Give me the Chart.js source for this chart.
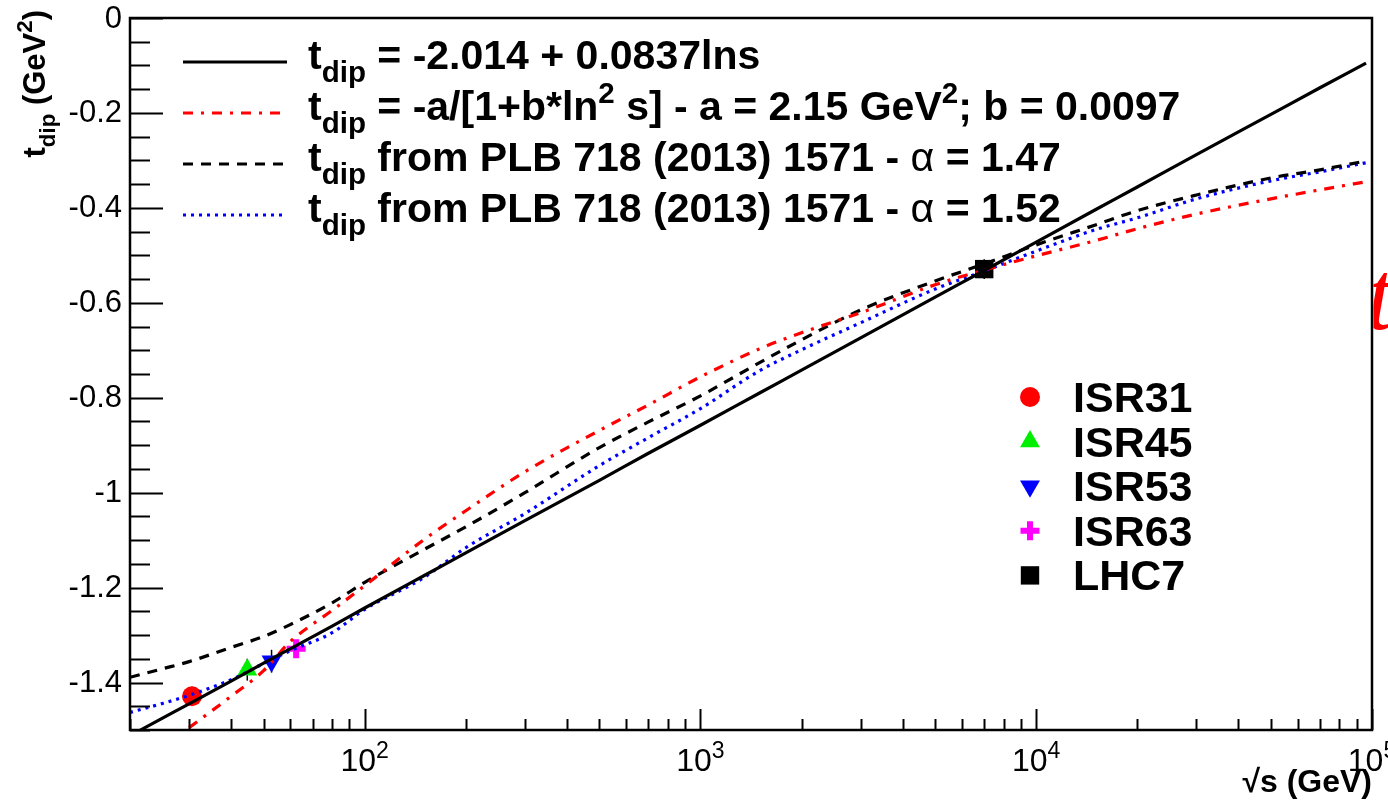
<!DOCTYPE html>
<html lang="en">
<head>
  <meta charset="UTF-8" />
  <title>t_dip vs sqrt(s)</title>
  <style>
    html, body { margin: 0; padding: 0; background: #fff; }
    #wrap { width: 1388px; height: 802px; }
  </style>
</head>
<body>
  <div id="wrap"><canvas id="chart" width="1388" height="802"></canvas></div>

  <script src="https://cdn.jsdelivr.net/npm/chart.js@4"></script>
  <script>
    // sqrt(s) sample positions (GeV) at which the curves were read
    const sqrtS = [20, 25, 30, 40, 50, 60, 80, 100, 150, 200, 300, 500, 700, 1000, 1500, 2000, 3000, 5000, 7000, 10000, 15000, 20000, 30000, 50000, 70000, 96000];

    // t_dip = -2.014 + 0.0837 ln s  (solid black)
    const tLinear = [-1.512, -1.475, -1.445, -1.397, -1.359, -1.329, -1.281, -1.243, -1.175, -1.127, -1.059, -0.974, -0.917, -0.858, -0.790, -0.742, -0.674, -0.588, -0.532, -0.472, -0.404, -0.356, -0.288, -0.203, -0.147, -0.095];
    // t_dip = -a/[1+b ln^2 s]  (red dash-dot), starts at sqrt(s)=30
    const tRatio = [null, null, -1.495, -1.429, -1.375, -1.314, -1.248, -1.196, -1.099, -1.038, -0.956, -0.869, -0.815, -0.756, -0.697, -0.663, -0.621, -0.562, -0.531, -0.501, -0.469, -0.444, -0.413, -0.381, -0.362, -0.345];
    // PLB 718 (2013) 1571, alpha = 1.47  (black dashed)
    const tPlb147 = [-1.389, -1.371, -1.356, -1.326, -1.303, -1.278, -1.232, -1.189, -1.120, -1.072, -1.000, -0.905, -0.851, -0.796, -0.726, -0.678, -0.615, -0.554, -0.518, -0.478, -0.436, -0.406, -0.373, -0.337, -0.320, -0.301];
    // PLB 718 (2013) 1571, alpha = 1.52  (blue dotted)
    const tPlb152 = [-1.463, -1.444, -1.427, -1.394, -1.360, -1.333, -1.295, -1.246, -1.179, -1.116, -1.044, -0.943, -0.884, -0.823, -0.743, -0.699, -0.642, -0.571, -0.533, -0.491, -0.446, -0.421, -0.381, -0.343, -0.324, -0.305];

    // measured points
    const pointNames = ["ISR31", "ISR45", "ISR53", "ISR63", "LHC7"];
    const pointX = [30.6, 44.7, 52.8, 62.5, 7000];
    const pointY = [-1.429, -1.373, -1.355, -1.329, -0.529];
    const pointErr = [0.020, 0.023, 0.024, 0.017, 0.021];

    // axis labels
    const yTicks = [0, -0.2, -0.4, -0.6, -0.8, -1, -1.2, -1.4];
    const yTickLabels = ["0", "-0.2", "-0.4", "-0.6", "-0.8", "-1", "-1.2", "-1.4"];
    const xDecades = [100, 1000, 10000, 100000];
    const xDecadeExp = ["2", "3", "4", "5"];

    const FONT = '"Liberation Sans", Arial, Helvetica, sans-serif';

    const markerStyles = [
      { color: "#ff0000", style: "circle", radius: 10, rotation: 0, bw: 0 },
      { color: "#00ee00", style: "triangle", radius: 11.5, rotation: 0, bw: 0 },
      { color: "#0000ff", style: "triangle", radius: 11.5, rotation: 180, bw: 0 },
      { color: "#ff00ff", style: "cross", radius: 9.5, rotation: 0, bw: 6 },
      { color: "#000000", style: "rect", radius: 13, rotation: 0, bw: 0 }
    ];

    const curves = [
      { data: tLinear, color: "#000000", dash: [] },
      { data: tRatio, color: "#ff0000", dash: [10, 8, 3, 8] },
      { data: tPlb147, color: "#000000", dash: [10, 8] },
      { data: tPlb152, color: "#0000ff", dash: [3, 5] }
    ];

    const legendTexts = [
      [{ t: "t" }, { t: "dip", k: "sub" }, { t: " = -2.014 + 0.0837lns" }],
      [{ t: "t" }, { t: "dip", k: "sub" }, { t: " = -a/[1+b*ln" }, { t: "2", k: "sup" }, { t: " s] - a = 2.15 GeV" }, { t: "2", k: "sup" }, { t: "; b = 0.0097" }],
      [{ t: "t" }, { t: "dip", k: "sub" }, { t: " from PLB 718 (2013) 1571 - " }, { t: "α", w: "normal" }, { t: " = 1.47" }],
      [{ t: "t" }, { t: "dip", k: "sub" }, { t: " from PLB 718 (2013) 1571 - " }, { t: "α", w: "normal" }, { t: " = 1.52" }]
    ];

    // --- rich text helpers (sub/superscripts) ---
    function partFont(p, size, weight) {
      const s = p.k ? size * 0.72 : size;
      return `${p.w || weight} ${s}px ${FONT}`;
    }
    function richWidth(ctx, parts, size, weight) {
      let w = 0;
      parts.forEach(p => { ctx.font = partFont(p, size, weight); w += ctx.measureText(p.t).width; });
      return w;
    }
    function drawRich(ctx, parts, x, y, size, weight, align) {
      let cx = x;
      const total = richWidth(ctx, parts, size, weight);
      if (align === "center") cx = x - total / 2;
      if (align === "right") cx = x - total;
      ctx.textAlign = "left";
      ctx.textBaseline = "alphabetic";
      parts.forEach(p => {
        ctx.font = partFont(p, size, weight);
        const dy = p.k === "sub" ? size * 0.32 : p.k === "sup" ? -size * 0.42 : 0;
        ctx.fillText(p.t, cx, y + dy);
        cx += ctx.measureText(p.t).width;
      });
      return total;
    }

    function drawMarker(ctx, m, x, y) {
      ctx.save();
      ctx.fillStyle = m.color;
      ctx.strokeStyle = m.color;
      ctx.lineWidth = m.bw;
      Chart.helpers.drawPoint(ctx, { pointStyle: m.style, radius: m.radius, rotation: m.rotation, borderWidth: m.bw }, x, y);
      ctx.restore();
    }

    const errorBars = {
      id: "errorBars",
      beforeDatasetsDraw(chart) {
        const { ctx, scales: { x, y } } = chart;
        ctx.save();
        ctx.strokeStyle = "#000";
        ctx.lineWidth = 1.5;
        pointX.forEach((v, i) => {
          const px = x.getPixelForValue(v);
          ctx.beginPath();
          ctx.moveTo(px, y.getPixelForValue(pointY[i] - pointErr[i]));
          ctx.lineTo(px, y.getPixelForValue(pointY[i] + pointErr[i]));
          ctx.stroke();
        });
        ctx.restore();
      }
    };

    const frameAndText = {
      id: "frameAndText",
      afterDraw(chart) {
        const { ctx, chartArea: a, scales: { x, y } } = chart;
        ctx.save();
        ctx.strokeStyle = "#000";
        ctx.fillStyle = "#000";

        // frame
        ctx.lineWidth = 2.5;
        ctx.strokeRect(a.left, a.top, a.right - a.left, a.bottom - a.top);

        // y ticks (inward)
        ctx.lineWidth = 2;
        for (let v = 0; v >= -1.5001; v -= 0.05) {
          const major = Math.abs(Math.round(v * 100) % 20) === 0;
          const py = Math.round(y.getPixelForValue(v)) + 0.5;
          ctx.beginPath();
          ctx.moveTo(a.left, py);
          ctx.lineTo(a.left + (major ? 33 : 20), py);
          ctx.stroke();
        }
        // y labels
        ctx.font = `31px ${FONT}`;
        ctx.textAlign = "right";
        ctx.textBaseline = "middle";
        yTicks.forEach((v, i) => ctx.fillText(yTickLabels[i], 122, y.getPixelForValue(v) + 1));

        // x ticks (inward)
        for (let dec = 10; dec <= 100000; dec *= 10) {
          for (let k = 1; k <= 9; k++) {
            const v = dec * k;
            if (v < 20 || v > 100000) continue;
            const px = Math.round(x.getPixelForValue(v)) + 0.5;
            ctx.beginPath();
            ctx.moveTo(px, a.bottom);
            ctx.lineTo(px, a.bottom - (k === 1 ? 21 : 11));
            ctx.stroke();
          }
        }
        // x labels
        ctx.fillStyle = "#000";
        xDecades.forEach((v, i) => {
          drawRich(ctx, [{ t: "10" }, { t: xDecadeExp[i], k: "sup" }], x.getPixelForValue(v), 771, 32, "normal", "center");
        });

        // axis titles
        drawRich(ctx, [{ t: "√s (GeV)" }], a.right, 792, 32, "bold", "right");
        ctx.save();
        ctx.translate(45, 10);
        ctx.rotate(-Math.PI / 2);
        drawRich(ctx, [{ t: "t" }, { t: "dip", k: "sub" }, { t: " (GeV" }, { t: "2", k: "sup" }, { t: ")" }], 0, 0, 31, "bold", "right");
        ctx.restore();

        // upper legend
        curves.forEach((c, i) => {
          const ly = 62 + i * 51;
          ctx.save();
          ctx.strokeStyle = c.color;
          ctx.lineWidth = 3;
          ctx.setLineDash(c.dash);
          ctx.beginPath();
          ctx.moveTo(183, ly);
          ctx.lineTo(287, ly);
          ctx.stroke();
          ctx.restore();
          ctx.fillStyle = "#000";
          drawRich(ctx, legendTexts[i], 308, ly + 7, 41, "bold", "left");
        });

        // lower legend (markers)
        pointNames.forEach((name, i) => {
          const ly = 397 + i * 44.6;
          drawMarker(ctx, markerStyles[i], 1030, ly);
          ctx.fillStyle = "#000";
          drawRich(ctx, [{ t: name }], 1073, ly + 15, 43, "bold", "left");
        });

        // red glyph cut off at the right edge
        ctx.save();
        ctx.beginPath();
        ctx.rect(a.right + 1.5, 0, 40, 802);
        ctx.clip();
        ctx.fillStyle = "#ff0000";
        ctx.font = 'italic 100px "Liberation Serif", serif';
        ctx.textAlign = "left";
        ctx.textBaseline = "alphabetic";
        ctx.fillText("t", a.right - 6, 329);
        ctx.restore();

        ctx.restore();
      }
    };

    const curveSets = curves.map(c => ({
      data: sqrtS.map((s, i) => ({ x: s, y: c.data[i] })),
      showLine: true,
      borderColor: c.color,
      borderWidth: 3.2,
      borderDash: c.dash,
      pointRadius: 0,
      cubicInterpolationMode: "monotone",
      spanGaps: false,
      fill: false
    }));

    const markerSets = pointNames.map((n, i) => ({
      label: n,
      data: [{ x: pointX[i], y: pointY[i] }],
      pointStyle: markerStyles[i].style,
      pointRadius: markerStyles[i].radius,
      pointRotation: markerStyles[i].rotation,
      pointBackgroundColor: markerStyles[i].color,
      pointBorderColor: markerStyles[i].color,
      pointBorderWidth: markerStyles[i].bw
    }));

    new Chart(document.getElementById("chart").getContext("2d"), {
      type: "scatter",
      data: { datasets: [...curveSets, ...markerSets] },
      options: {
        responsive: false,
        animation: false,
        devicePixelRatio: 1,
        events: [],
        layout: { padding: { left: 130, right: 16, top: 18, bottom: 72 } },
        plugins: { legend: { display: false }, tooltip: { enabled: false } },
        scales: {
          x: { type: "logarithmic", min: 20, max: 100000, display: false },
          y: { type: "linear", min: -1.5, max: 0, display: false }
        }
      },
      plugins: [errorBars, frameAndText]
    });
  </script>
</body>
</html>
